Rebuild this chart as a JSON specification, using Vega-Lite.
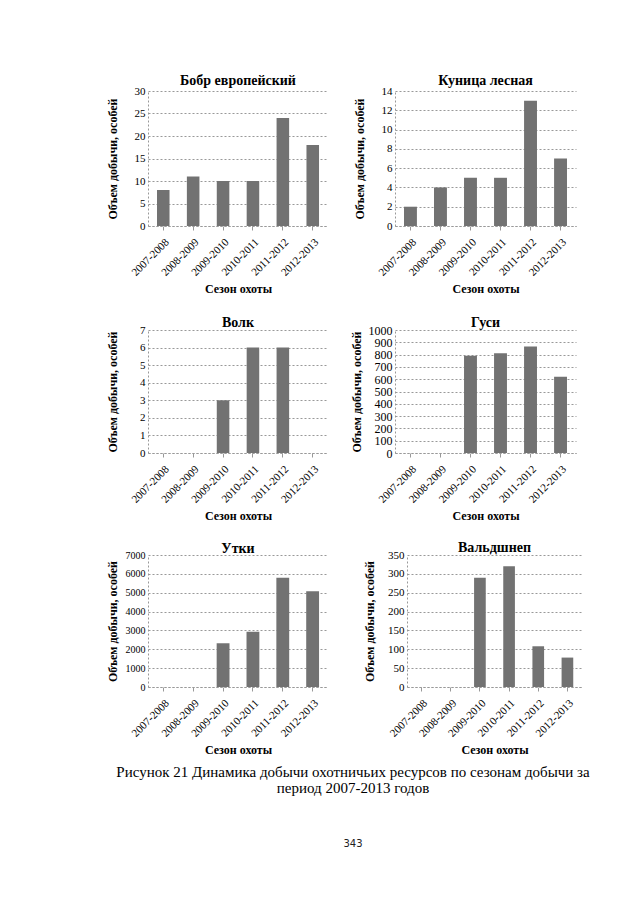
{
  "$schema": "https://vega.github.io/schema/vega-lite/v6.json",
  "background": "white",
  "padding": {"left": 105, "top": 74, "right": 5, "bottom": 5},
  "datasets": {
    "hunt": [
      {"species": "Бобр европейский", "season": "2007-2008", "value": 8},
      {"species": "Бобр европейский", "season": "2008-2009", "value": 11},
      {"species": "Бобр европейский", "season": "2009-2010", "value": 10},
      {"species": "Бобр европейский", "season": "2010-2011", "value": 10},
      {"species": "Бобр европейский", "season": "2011-2012", "value": 24},
      {"species": "Бобр европейский", "season": "2012-2013", "value": 18},
      {"species": "Куница лесная", "season": "2007-2008", "value": 2},
      {"species": "Куница лесная", "season": "2008-2009", "value": 4},
      {"species": "Куница лесная", "season": "2009-2010", "value": 5},
      {"species": "Куница лесная", "season": "2010-2011", "value": 5},
      {"species": "Куница лесная", "season": "2011-2012", "value": 13},
      {"species": "Куница лесная", "season": "2012-2013", "value": 7},
      {"species": "Волк", "season": "2009-2010", "value": 3},
      {"species": "Волк", "season": "2010-2011", "value": 6},
      {"species": "Волк", "season": "2011-2012", "value": 6},
      {"species": "Гуси", "season": "2009-2010", "value": 790},
      {"species": "Гуси", "season": "2010-2011", "value": 810},
      {"species": "Гуси", "season": "2011-2012", "value": 865},
      {"species": "Гуси", "season": "2012-2013", "value": 620},
      {"species": "Утки", "season": "2009-2010", "value": 2320},
      {"species": "Утки", "season": "2010-2011", "value": 2930},
      {"species": "Утки", "season": "2011-2012", "value": 5800},
      {"species": "Утки", "season": "2012-2013", "value": 5080},
      {"species": "Вальдшнеп", "season": "2009-2010", "value": 290},
      {"species": "Вальдшнеп", "season": "2010-2011", "value": 320},
      {"species": "Вальдшнеп", "season": "2011-2012", "value": 108},
      {"species": "Вальдшнеп", "season": "2012-2013", "value": 78}
    ]
  },
  "title": {
    "text": ["Рисунок 21 Динамика добычи охотничьих ресурсов по сезонам добычи за", "период 2007-2013 годов"],
    "orient": "bottom",
    "anchor": "middle",
    "font": "Liberation Serif",
    "fontSize": 15,
    "fontWeight": "normal",
    "color": "#000000",
    "lineHeight": 16,
    "offset": 10,
    "dx": 9,
    "subtitle": "343",
    "subtitleFont": "DejaVu Sans",
    "subtitleFontSize": 10,
    "subtitleColor": "#222222",
    "subtitlePadding": 43
  },
  "config": {
    "view": {"stroke": null},
    "title": {"font": "Liberation Serif", "fontSize": 14, "fontWeight": "bold", "color": "#000000", "offset": -6, "anchor": "middle"},
    "axis": {
      "labelFont": "Liberation Serif",
      "labelFontSize": 11,
      "labelColor": "#000000",
      "titleFont": "Liberation Serif",
      "titleFontSize": 12,
      "titleFontWeight": "bold",
      "titleColor": "#000000",
      "domainColor": "#999999",
      "domainDash": [2, 2],
      "tickColor": "#999999",
      "gridColor": "#999999",
      "gridDash": [2, 2]
    },
    "axisX": {"labelAngle": -45, "grid": false, "tickSize": 4, "labelPadding": 6, "titlePadding": 6, "labelFontSize": 11},
    "axisY": {"grid": true, "ticks": false, "labelPadding": 3, "titlePadding": 5, "minExtent": 24, "maxExtent": 24, "format": "d"}
  },
  "spacing": 21,
  "vconcat": [
    {
      "spacing": 24,
      "hconcat": [
        {
          "title": {"text": "Бобр европейский", "offset": -3},
          "width": 180, "height": 135,
          "data": {"name": "hunt"},
          "transform": [{"filter": "datum.species === 'Бобр европейский'"}],
          "mark": {"type": "bar", "fill": "#727272"},
          "encoding": {
            "x": {"field": "season", "type": "nominal", "sort": null,
                  "scale": {"domain": ["2007-2008", "2008-2009", "2009-2010", "2010-2011", "2011-2012", "2012-2013"], "paddingInner": 0.58, "paddingOuter": 0.3},
                  "axis": {"title": "Сезон охоты"}},
            "y": {"field": "value", "type": "quantitative",
                  "scale": {"domain": [0, 30]},
                  "axis": {"values": [0, 5, 10, 15, 20, 25, 30], "title": "Объем добычи, особей"}}
          }
        },
        {
          "title": {"text": "Куница лесная", "offset": -3},
          "width": 181, "height": 135,
          "data": {"name": "hunt"},
          "transform": [{"filter": "datum.species === 'Куница лесная'"}],
          "mark": {"type": "bar", "fill": "#727272"},
          "encoding": {
            "x": {"field": "season", "type": "nominal", "sort": null,
                  "scale": {"domain": ["2007-2008", "2008-2009", "2009-2010", "2010-2011", "2011-2012", "2012-2013"], "paddingInner": 0.57, "paddingOuter": 0.3},
                  "axis": {"title": "Сезон охоты"}},
            "y": {"field": "value", "type": "quantitative",
                  "scale": {"domain": [0, 14]},
                  "axis": {"values": [0, 2, 4, 6, 8, 10, 12, 14], "title": "Объем добычи, особей"}}
          }
        }
      ]
    },
    {
      "spacing": 19,
      "vconcat": [
        {
          "spacing": 21,
          "hconcat": [
            {
              "title": "Волк",
              "width": 180, "height": 123,
              "data": {"name": "hunt"},
              "transform": [{"filter": "datum.species === 'Волк'"}],
              "mark": {"type": "bar", "fill": "#727272"},
              "encoding": {
                "x": {"field": "season", "type": "nominal", "sort": null,
                      "scale": {"domain": ["2007-2008", "2008-2009", "2009-2010", "2010-2011", "2011-2012", "2012-2013"], "paddingInner": 0.58, "paddingOuter": 0.3},
                      "axis": {"title": "Сезон охоты"}},
                "y": {"field": "value", "type": "quantitative",
                      "scale": {"domain": [0, 7]},
                      "axis": {"values": [0, 1, 2, 3, 4, 5, 6, 7], "title": "Объем добычи, особей"}}
              }
            },
            {
              "title": "Гуси",
              "width": 181, "height": 123,
              "data": {"name": "hunt"},
              "transform": [{"filter": "datum.species === 'Гуси'"}],
              "mark": {"type": "bar", "fill": "#727272"},
              "encoding": {
                "x": {"field": "season", "type": "nominal", "sort": null,
                      "scale": {"domain": ["2007-2008", "2008-2009", "2009-2010", "2010-2011", "2011-2012", "2012-2013"], "paddingInner": 0.57, "paddingOuter": 0.3},
                      "axis": {"title": "Сезон охоты"}},
                "y": {"field": "value", "type": "quantitative",
                      "scale": {"domain": [0, 1000]},
                      "axis": {"values": [0, 100, 200, 300, 400, 500, 600, 700, 800, 900, 1000], "title": "Объем добычи, особей", "labelFontSize": 12, "minExtent": 27, "maxExtent": 27}}
              }
            }
          ]
        },
        {
          "spacing": 34,
          "hconcat": [
            {
              "title": "Утки",
              "width": 180, "height": 132,
              "data": {"name": "hunt"},
              "transform": [{"filter": "datum.species === 'Утки'"}],
              "mark": {"type": "bar", "fill": "#727272"},
              "encoding": {
                "x": {"field": "season", "type": "nominal", "sort": null,
                      "scale": {"domain": ["2007-2008", "2008-2009", "2009-2010", "2010-2011", "2011-2012", "2012-2013"], "paddingInner": 0.57, "paddingOuter": 0.3},
                      "axis": {"title": "Сезон охоты"}},
                "y": {"field": "value", "type": "quantitative",
                      "scale": {"domain": [0, 7000]},
                      "axis": {"values": [0, 1000, 2000, 3000, 4000, 5000, 6000, 7000], "title": "Объем добычи, особей", "labelFontSize": 10}}
              }
            },
            {
              "title": "Вальдшнеп",
              "width": 175, "height": 132,
              "data": {"name": "hunt"},
              "transform": [{"filter": "datum.species === 'Вальдшнеп'"}],
              "mark": {"type": "bar", "fill": "#727272"},
              "encoding": {
                "x": {"field": "season", "type": "nominal", "sort": null,
                      "scale": {"domain": ["2007-2008", "2008-2009", "2009-2010", "2010-2011", "2011-2012", "2012-2013"], "paddingInner": 0.6, "paddingOuter": 0.3},
                      "axis": {"title": "Сезон охоты"}},
                "y": {"field": "value", "type": "quantitative",
                      "scale": {"domain": [0, 350]},
                      "axis": {"values": [0, 50, 100, 150, 200, 250, 300, 350], "title": "Объем добычи, особей", "minExtent": 26, "maxExtent": 26}}
              }
            }
          ]
        }
      ]
    }
  ]
}
